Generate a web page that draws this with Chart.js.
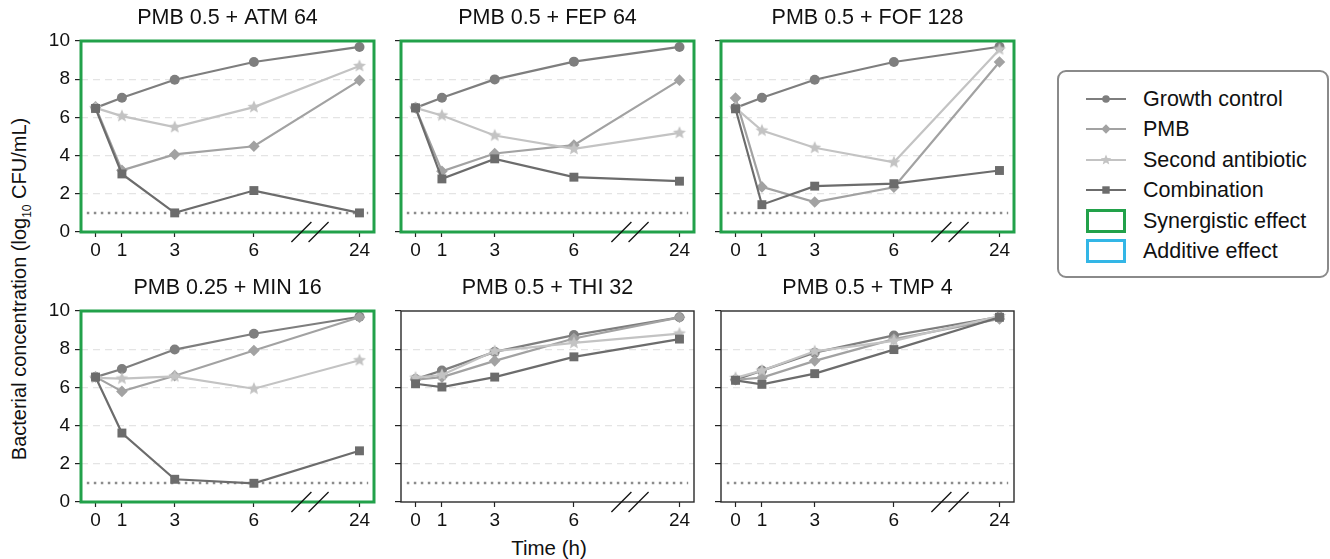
<!DOCTYPE html>
<html>
<head>
<meta charset="utf-8">
<script src="https://cdn.jsdelivr.net/npm/chart.js@4.4.1/dist/chart.umd.min.js"></script>
<style>
  body { margin: 0; width: 1330px; height: 559px; background: #fff; position: relative; overflow: hidden;
         font-family: "Liberation Sans", Arial, sans-serif; color: #111; }
  canvas { position: absolute; }
  #ylab { position: absolute; left: 21px; top: 289px; transform: translate(-50%, -50%) rotate(-90deg);
          white-space: nowrap; font-size: 20px; }
  #ylab sub { font-size: 12px; }
  #xlab { position: absolute; left: 549px; top: 548px; transform: translate(-50%, -50%); font-size: 20.5px; white-space: nowrap; }
  #legend { position: absolute; left: 1057px; top: 70px; width: 272px; height: 208px; box-sizing: border-box;
            border: 2px solid #8a8a8a; border-radius: 9px; }
  .item { position: absolute; left: 27px; height: 30px; display: flex; align-items: center; font-size: 21.5px; white-space: nowrap; }
  .item svg { margin-right: 17px; }
</style>
</head>
<body>
<div id="ylab">Bacterial concentration (log<sub>10</sub> CFU/mL)</div>
<div id="xlab">Time (h)</div>
<div id="legend"></div>

<script>
// sampling times (h) and panel titles
const HOURS = [0, 1, 3, 6, 24];
const PANEL_TITLES = ['PMB 0.5 + ATM 64', 'PMB 0.5 + FEP 64', 'PMB 0.5 + FOF 128',
                      'PMB 0.25 + MIN 16', 'PMB 0.5 + THI 32', 'PMB 0.5 + TMP 4'];
const SYNERGISTIC = [true, true, true, true, false, false];
const Y_TICKS = [0, 2, 4, 6, 8, 10];
const DETECTION_LIMIT = 1;

// log10 CFU/mL, one row per panel
const growthControl = [
  [6.50, 7.03, 7.97, 8.90, 9.69],
  [6.50, 7.03, 7.99, 8.92, 9.69],
  [6.50, 7.03, 7.97, 8.90, 9.70],
  [6.54, 6.96, 7.98, 8.81, 9.70],
  [6.44, 6.88, 7.86, 8.74, 9.67],
  [6.40, 6.88, 7.82, 8.72, 9.70]
];
const pmbAlone = [
  [6.55, 3.23, 4.06, 4.49, 7.94],
  [6.50, 3.18, 4.11, 4.55, 7.95],
  [7.01, 2.36, 1.57, 2.34, 8.90],
  [6.55, 5.79, 6.61, 7.93, 9.67],
  [6.40, 6.54, 7.39, 8.56, 9.67],
  [6.40, 6.51, 7.39, 8.53, 9.58]
];
const secondAntibiotic = [
  [6.50, 6.07, 5.49, 6.54, 8.69],
  [6.50, 6.10, 5.05, 4.35, 5.19],
  [6.50, 5.31, 4.41, 3.65, 9.56],
  [6.50, 6.46, 6.58, 5.93, 7.42],
  [6.51, 6.65, 7.90, 8.33, 8.82],
  [6.50, 6.88, 7.89, 8.44, 9.74]
];
const combination = [
  [6.47, 3.04, 1.00, 2.17, 1.00],
  [6.50, 2.78, 3.83, 2.87, 2.66],
  [6.45, 1.43, 2.40, 2.53, 3.22],
  [6.54, 3.61, 1.19, 0.98, 2.68],
  [6.19, 6.02, 6.54, 7.60, 8.53],
  [6.37, 6.16, 6.72, 7.98, 9.67]
];

// ---- styling ----
const GREEN = '#22a14a';
const BLUE = '#33b6e6';
const C_GROWTH = '#7e7e7e', C_PMB = '#a2a2a2', C_SECOND = '#c3c3c3', C_COMBO = '#6c6c6c';

// broken time axis: 24 h is drawn at position 10
const xOf = h => (h > 6 ? 10 : h);
const hourAt = v => (v === 10 ? 24 : v);

function starImage(color, r) {
  const c = document.createElement('canvas');
  c.width = c.height = Math.ceil(2 * r + 2);
  const g = c.getContext('2d');
  g.fillStyle = color;
  g.beginPath();
  for (let i = 0; i < 10; i++) {
    const rad = i % 2 ? r * 0.45 : r;
    const a = -Math.PI / 2 + i * Math.PI / 5;
    g.lineTo(c.width / 2 + rad * Math.cos(a), c.height / 2 + rad * Math.sin(a));
  }
  g.closePath();
  g.fill();
  return c;
}
const STAR = starImage(C_SECOND, 6.8);

const series = [
  { label: 'Growth control', data: growthControl, color: C_GROWTH, style: 'circle', radius: 5, order: 3 },
  { label: 'PMB', data: pmbAlone, color: C_PMB, style: 'rectRot', radius: 5.8, order: 2 },
  { label: 'Second antibiotic', data: secondAntibiotic, color: C_SECOND, style: STAR, radius: 6, order: 1 },
  { label: 'Combination', data: combination, color: C_COMBO, style: 'rect', radius: 6.3, order: 0 }
];

const framePlugin = {
  id: 'frame',
  afterDatasetsDraw(chart, args, opts) {
    const { ctx, chartArea: a, scales: { x } } = chart;
    ctx.save();
    // title
    ctx.fillStyle = '#111';
    ctx.font = '21.5px "Liberation Sans", Arial, sans-serif';
    ctx.textAlign = 'center';
    ctx.textBaseline = 'middle';
    ctx.fillText(opts.title, (a.left + a.right) / 2, a.top - 23);
    // box
    ctx.strokeStyle = opts.synergy ? GREEN : '#2a2a2a';
    ctx.lineWidth = opts.synergy ? 3 : 1.4;
    ctx.strokeRect(a.left, a.top, a.right - a.left, a.bottom - a.top);
    // axis break marks
    ctx.strokeStyle = '#111';
    ctx.lineWidth = 1.3;
    [7.8, 8.45].forEach(v => {
      const cx = x.getPixelForValue(v);
      ctx.beginPath();
      ctx.moveTo(cx - 10, a.bottom + 10);
      ctx.lineTo(cx + 10, a.bottom - 10);
      ctx.stroke();
    });
    ctx.restore();
  }
};

const PLOT_W = 293, PLOT_H = 191;
const COL_X = [81, 401, 721], ROW_Y = [41, 311];
const PAD_L = 70, PAD_T = 40, PAD_R = 8, PAD_B = 34;

PANEL_TITLES.forEach((title, p) => {
  const col = p % 3, row = Math.floor(p / 3);
  const cv = document.createElement('canvas');
  cv.width = PLOT_W + PAD_L + PAD_R;
  cv.height = PLOT_H + PAD_T + PAD_B;
  cv.style.left = (COL_X[col] - PAD_L) + 'px';
  cv.style.top = (ROW_Y[row] - PAD_T) + 'px';
  document.body.appendChild(cv);

  const datasets = series.map(s => ({
    label: s.label,
    data: HOURS.map((h, i) => ({ x: xOf(h), y: s.data[p][i] })),
    borderColor: s.color,
    backgroundColor: s.color,
    borderWidth: 2.2,
    pointStyle: s.style,
    pointRadius: s.radius,
    pointBorderWidth: 0,
    order: s.order
  }));
  datasets.push({
    label: 'LOD',
    data: [{ x: -0.33, y: DETECTION_LIMIT }, { x: 10.33, y: DETECTION_LIMIT }],
    borderColor: '#8c8c8c',
    borderWidth: 2.5,
    borderDash: [2.5, 4.5],
    pointRadius: 0,
    order: 10
  });

  new Chart(cv, {
    type: 'line',
    data: { datasets },
    options: {
      responsive: false,
      animation: false,
      events: [],
      layout: { padding: { top: PAD_T, right: PAD_R, left: 0, bottom: 0 } },
      plugins: {
        legend: { display: false },
        tooltip: { enabled: false },
        frame: { title, synergy: SYNERGISTIC[p] }
      },
      scales: {
        x: {
          type: 'linear', min: -0.55, max: 10.55,
          afterBuildTicks: s => { s.ticks = HOURS.map(h => ({ value: xOf(h) })); },
          afterFit: s => { s.height = PAD_B; },
          grid: { drawOnChartArea: false, drawTicks: true, tickLength: 5, tickColor: '#222', tickWidth: 1.2 },
          border: { display: false },
          ticks: { color: '#111', padding: 2, maxRotation: 0, font: { size: 19, family: '"Liberation Sans", Arial, sans-serif' },
                   callback: v => String(hourAt(v)) }
        },
        y: {
          min: 0, max: 10,
          afterBuildTicks: s => { s.ticks = Y_TICKS.map(v => ({ value: v })); },
          afterFit: s => { s.width = PAD_L; },
          grid: {
            color: c => (c.tick && (c.tick.value === 0 || c.tick.value === 10)) ? 'rgba(0,0,0,0)' : '#e4e4e4',
            lineWidth: 1.2, tickLength: 6, tickColor: '#222', tickWidth: 1.2
          },
          border: { display: false, dash: [7, 5] },
          ticks: { color: '#111', padding: 5, font: { size: 19, family: '"Liberation Sans", Arial, sans-serif' },
                   callback: v => (col === 0 ? String(v) : '') }
        }
      }
    },
    plugins: [framePlugin]
  });
});

// shared legend
const legend = document.getElementById('legend');
const rowsTop = [12, 42, 73, 103, 134, 164];
const starPts = (cx, cy, r) => Array.from({ length: 10 }, (_, i) => {
  const rad = i % 2 ? r * 0.45 : r, a = -Math.PI / 2 + i * Math.PI / 5;
  return (cx + rad * Math.cos(a)).toFixed(2) + ',' + (cy + rad * Math.sin(a)).toFixed(2);
}).join(' ');
const marker = s => {
  if (s.style === 'circle') return `<circle cx="20" cy="11" r="3.8" fill="${s.color}"/>`;
  if (s.style === 'rectRot') return `<polygon points="20,6.3 24.7,11 20,15.7 15.3,11" fill="${s.color}"/>`;
  if (s.style === 'rect') return `<rect x="16.3" y="7.3" width="7.4" height="7.4" fill="${s.color}"/>`;
  return `<polygon points="${starPts(20, 11, 5.5)}" fill="${s.color}"/>`;
};
series.forEach((s, i) => {
  legend.insertAdjacentHTML('beforeend',
    `<div class="item" style="top:${rowsTop[i]}px"><svg width="40" height="22">` +
    `<line x1="0" y1="11" x2="40" y2="11" stroke="${s.color}" stroke-width="2"/>${marker(s)}</svg>${s.label}</div>`);
});
[['Synergistic effect', GREEN], ['Additive effect', BLUE]].forEach(([label, color], j) => {
  legend.insertAdjacentHTML('beforeend',
    `<div class="item" style="top:${rowsTop[4 + j]}px"><svg width="40" height="24">` +
    `<rect x="1.5" y="1.5" width="37" height="21" fill="none" stroke="${color}" stroke-width="3"/></svg>${label}</div>`);
});
</script>
</body>
</html>
